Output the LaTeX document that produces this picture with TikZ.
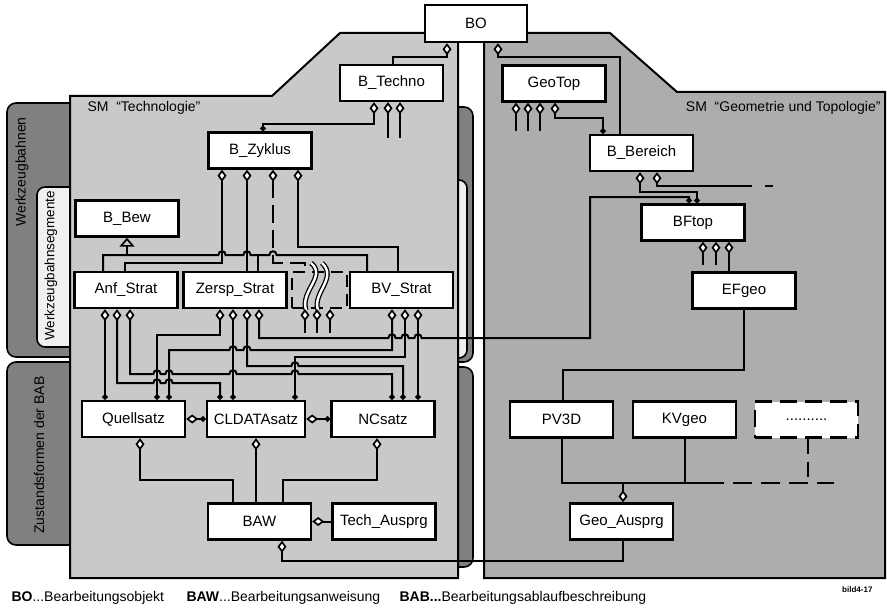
\documentclass[tikz,border=0pt]{standalone}
\usepackage{fontspec}
\setmainfont{Liberation Sans}
\usetikzlibrary{arrows.meta,positioning,backgrounds}

% bridge where a line jumps over another one (rightwards / leftwards)
\newcommand{\hopr}[2]{-- ({#1-3.6},#2) .. controls ({#1-3.6},{#2-5}) and ({#1+3.6},{#2-5}) .. ({#1+3.6},#2)}
\newcommand{\hopl}[2]{-- ({#1+3.6},#2) .. controls ({#1+3.6},{#2-5}) and ({#1-3.6},{#2-5}) .. ({#1-3.6},#2)}

\begin{document}
\begin{tikzpicture}[
  x=1pt, y=-1pt,
  font=\fontsize{14}{16}\selectfont,
  box/.style={
    draw=black,
    line width=2.4pt,
    fill=white,
    minimum width=103pt,
    minimum height=36pt,
    inner sep=2pt,
    font=\fontsize{15}{17}\selectfont
  },
  wire/.style={line width=2pt, draw=black},
  agg/.style={wire, {Diamond[fill=white, length=12pt, width=9pt, line width=1.7pt]}-},
  aggdot/.style={wire, {Diamond[fill=white, length=12pt, width=9pt, line width=1.7pt]}-{Circle[length=5.5pt]}},
  gen/.style={wire, {Triangle[open, length=9pt, width=15pt, line width=1.7pt]}-},
  wave/.style={line width=1.3pt, double=white, double distance=2.4pt},
  panel/.style={draw=black, line width=2pt},
  tab/.style={draw=black, line width=1.6pt, rounded corners=9pt, fill=black!50},
  subtab/.style={draw=black, line width=1.6pt, rounded corners=8pt, fill=black!6},
  tablabel/.style={rotate=90},
  legend/.style={anchor=west}
]
\useasboundingbox (0,0) rectangle (887,610);

% labels of the panels and tabs
\node[tablabel] (lblwb) at (22,172) {Werkzeugbahnen};
\node[tablabel, font=\fontsize{13.5}{15}\selectfont] (lblwbs) at (51,266) {Werkzeugbahnsegmente};
\node[tablabel] (lblzf) at (39,455) {Zustandsformen der BAB};
\node[anchor=west] (lbltech) at (84,108) {SM\ \ “Technologie”};
\node[anchor=east] (lblgeo) at (884,108) {SM\ \ “Geometrie und Topologie”};

% classes
\node[box, minimum width=102pt, minimum height=37pt] (bo) at (476,23.5) {BO};
\node[box] (btechno) at (391.5,83) {B\_Techno};
\node[box] (bzyklus) at (260,150.5) {B\_Zyklus};
\node[box] (geotop) at (554,83.5) {GeoTop};
\node[box] (bbereich) at (641.5,153) {B\_Bereich};
\node[box] (bbew) at (127,218.5) {B\_Bew};
\node[box] (anf) at (126,290) {Anf\_Strat};
\node[box] (zersp) at (235,290) {Zersp\_Strat};
\node[draw, dash pattern=on 12pt off 7pt, line width=2.2pt,
  minimum width=55pt, minimum height=36pt] (other) at (319.5,290) {};
\node[box] (bv) at (401.5,290) {BV\_Strat};
\node[box] (bftop) at (693,222.5) {BFtop};
\node[box] (efgeo) at (744,290.5) {EFgeo};
\node[box] (quell) at (133.5,419) {Quellsatz};
\node[box, minimum width=98pt] (cldata) at (256,419) {CLDATAsatz};
\node[box] (nc) at (383,419) {NCsatz};
\node[box] (baw) at (259.5,521.5) {BAW};
\node[box, right=19pt of baw] (tech) {Tech\_Ausprg};
\node[box] (pv) at (561.5,419.5) {PV3D};
\node[box] (kv) at (684.5,419.5) {KVgeo};
\node[box, dash pattern=on 17pt off 8pt] (more) at (806.5,419.5) {..........};
\node[box] (geoau) at (621.5,521.5) {Geo\_Ausprg};

% BO
\draw[agg] ([xshift=-29pt]bo.south) -- (447,57) -- (393,57) -- ([xshift=1.5pt]btechno.north);
\draw[agg] ([xshift=22pt]bo.south) -- (498,57) -- (620,57) -- ([xshift=-21.5pt]bbereich.north);

% B_Techno and GeoTop
\draw[aggdot] ([xshift=-17.5pt]btechno.south) -- (374,124) -- (263,124) -- ([xshift=3pt]bzyklus.north);
\draw[agg] ([xshift=-3.5pt]btechno.south) -- ++(0,36);
\draw[agg] ([xshift=8.5pt]btechno.south) -- ++(0,36);
\draw[agg] ([xshift=-38pt]geotop.south) -- ++(0,28);
\draw[agg] ([xshift=-26pt]geotop.south) -- ++(0,28);
\draw[agg] ([xshift=-14pt]geotop.south) -- ++(0,28);
\draw[aggdot] ([xshift=1pt]geotop.south) -- (555,118) -- (603,118) -- ([xshift=-38.5pt]bbereich.north);

% B_Zyklus
\draw[agg] ([xshift=-38pt]bzyklus.south) -- (222,263) -- (125,263) -- ([xshift=-1pt]anf.north);
\draw[agg] ([xshift=-13pt]bzyklus.south) -- ([xshift=12pt]zersp.north);
\draw[agg, dash pattern=on 18pt off 7pt] ([xshift=13pt]bzyklus.south) -- (273,263) -- (305,263) -- ([xshift=-14.5pt]other.north);
\draw[agg] ([xshift=38pt]bzyklus.south) -- (298,247) -- (398,247) -- ([xshift=-3.5pt]bv.north);

% B_Bew
\draw[gen] (bbew.south) -- (127,255);
\draw[wire] ([xshift=-23pt]anf.north) -- (103,255) \hopr{222}{255} \hopr{247}{255} -- (258,255) \hopr{273}{255} -- (367,255) -- ([xshift=-34.5pt]bv.north);
\draw[wire] (258,255) -- ([xshift=23pt]zersp.north);

% further strategies
\draw[wave] (311,263) .. controls (327,276) and (300,291) .. (306,310);
\draw[wave] (322,263) .. controls (338,278) and (312,293) .. (318,310);
\draw[agg] ([xshift=-14.5pt]other.south) -- ++(0,24);
\draw[agg] ([xshift=-2.5pt]other.south) -- ++(0,24);
\draw[agg] ([xshift=10.5pt]other.south) -- ++(0,24);

% strategies -> Saetze
\draw[aggdot] ([xshift=-21pt]anf.south) -- ([xshift=-28.5pt]quell.north);
\draw[aggdot] ([xshift=-9pt]anf.south) -- (117,383) \hopr{157}{383} \hopr{169}{383} -- (220,383) -- ([xshift=-36pt]cldata.north);
\draw[aggdot] ([xshift=4pt]anf.south) -- (130,374) \hopr{157}{374} \hopr{169}{374} \hopr{233}{374} \hopr{295}{374} -- (392,374) -- ([xshift=9pt]nc.north);
\draw[aggdot] ([xshift=-15pt]zersp.south) -- (220,335) -- (157,335) -- ([xshift=23.5pt]quell.north);
\draw[aggdot] ([xshift=-2pt]zersp.south) -- ([xshift=-23pt]cldata.north);
\draw[aggdot] ([xshift=12pt]zersp.south) -- (247,366) \hopr{295}{366} -- (403,366) -- ([xshift=20pt]nc.north);
\draw[aggdot] ([xshift=24pt]zersp.south) -- (259,338) \hopr{392}{338} \hopr{405}{338} \hopr{418}{338} -- (590,338) -- (590,197) -- (689,197) -- ([xshift=-4pt]bftop.north);
\draw[aggdot] ([xshift=-9.5pt]bv.south) -- (392,350) \hopl{247}{350} \hopl{233}{350} -- (169,350) -- ([xshift=35.5pt]quell.north);
\draw[aggdot] ([xshift=3.5pt]bv.south) -- (405,357) -- (295,357) -- ([xshift=39pt]cldata.north);
\draw[aggdot] ([xshift=16.5pt]bv.south) -- ([xshift=35pt]nc.north);

% Saetze and BAW
\draw[aggdot] (quell.east) -- (cldata.west);
\draw[aggdot] (cldata.east) -- (nc.west);
\draw[agg] ([xshift=6.5pt]quell.south) -- (140,480) -- (233,480) -- ([xshift=-26.5pt]baw.north);
\draw[agg] (cldata.south) -- ([xshift=-3.5pt]baw.north);
\draw[agg] ([xshift=-6pt]nc.south) -- (377,480) -- (283,480) -- ([xshift=23.5pt]baw.north);
\draw[agg] (baw.east) -- (tech.west);
\draw[agg] ([xshift=22.5pt]baw.south) -- (282,561) -- (623,561) -- ([xshift=1.5pt]geoau.south);

% B_Bereich, BFtop, EFgeo
\draw[aggdot] ([xshift=-1.5pt]bbereich.south) -- (640,192) -- (697,192) -- ([xshift=4pt]bftop.north);
\draw[agg] ([xshift=15.5pt]bbereich.south) -- (657,186) -- (752,186);
\draw[wire] (765,186) -- (773,186);
\draw[agg] ([xshift=10pt]bftop.south) -- ++(0,23);
\draw[agg] ([xshift=23pt]bftop.south) -- ++(0,23);
\draw[agg] ([xshift=36pt]bftop.south) -- ([xshift=-15pt]efgeo.north);
\draw[wire] (efgeo.south) -- (744,370) -- (563,370) -- ([xshift=1.5pt]pv.north);

% geometry variants
\draw[wire] (pv.south) -- (561.5,483) -- (705,483);
\draw[wire] (kv.south) -- (684.5,483);
\draw[wire, dash pattern=on 19pt off 9pt] (705,483) -- (834,483);
\draw[wire, dash pattern=on 15pt off 8pt] ([xshift=1.5pt]more.south) -- (808,483);
\draw[agg] ([xshift=1.5pt]geoau.north) -- (623,483);

\begin{scope}[on background layer]
  \draw[tab] (7,103) rectangle (95,357);
  \draw[subtab] (37,187) rectangle (95,347);
  \draw[tab] (7,362) rectangle (95,545);
  \draw[tab] (430,107) rectangle (473,362);
  \draw[subtab] (430,180) rectangle (467,358);
  \draw[tab] (430,367) rectangle (473,567);
  \draw[panel, fill=black!21] (70,578) -- (70,96) -- (272,96) -- (340,33) -- (458,33) -- (458,578) -- cycle;
  \draw[panel, fill=black!32] (484,578) -- (484,33) -- (610,33) -- (677,92) -- (885,92) -- (885,578) -- cycle;
\end{scope}

\node[legend] (legbo) at (8,598) {\textbf{BO}...Bearbeitungsobjekt};
\node[legend] (legbaw) at (183,598) {\textbf{BAW}...Bearbeitungsanweisung};
\node[legend] (legbab) at (396,598) {\textbf{BAB...}Bearbeitungsablaufbeschreibung};
\node[anchor=east, font=\fontsize{8}{9}\selectfont\bfseries] (bild) at (876,590) {bild4-17};

\end{tikzpicture}
\end{document}
